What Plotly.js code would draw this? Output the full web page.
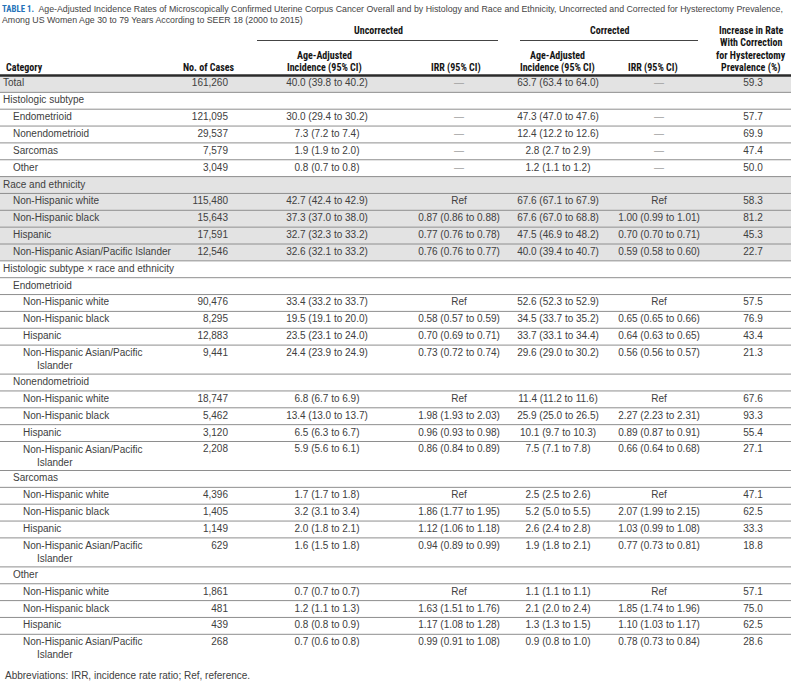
<!DOCTYPE html>
<html><head><meta charset="utf-8">
<script src="https://cdn.plot.ly/plotly-3.0.1.min.js"></script>
<style>html,body{margin:0;padding:0;background:#fff}#chart{width:791px;height:684px}</style>
</head><body><div id="chart"></div>
<script>
// ---------------- DATA ----------------
const categories = [
  "Total","Histologic subtype","Endometrioid","Nonendometrioid","Sarcomas","Other",
  "Race and ethnicity","Non-Hispanic white","Non-Hispanic black","Hispanic","Non-Hispanic Asian/Pacific Islander",
  "Histologic subtype \u00d7 race and ethnicity",
  "Endometrioid","Non-Hispanic white","Non-Hispanic black","Hispanic","Non-Hispanic Asian/Pacific Islander",
  "Nonendometrioid","Non-Hispanic white","Non-Hispanic black","Hispanic","Non-Hispanic Asian/Pacific Islander",
  "Sarcomas","Non-Hispanic white","Non-Hispanic black","Hispanic","Non-Hispanic Asian/Pacific Islander",
  "Other","Non-Hispanic white","Non-Hispanic black","Hispanic","Non-Hispanic Asian/Pacific Islander"
];
const levels = [0,0,1,1,1,1, 0,1,1,1,1, 0, 1,2,2,2,2, 1,2,2,2,2, 1,2,2,2,2, 1,2,2,2,2];
const cases = [161260,null,121095,29537,7579,3049, null,115480,15643,17591,12546, null,
  null,90476,8295,12883,9441, null,18747,5462,3120,2208, null,4396,1405,1149,629, null,1861,481,439,268];
const uncIncidence = ["40.0 (39.8 to 40.2)","","30.0 (29.4 to 30.2)","7.3 (7.2 to 7.4)","1.9 (1.9 to 2.0)","0.8 (0.7 to 0.8)",
  "","42.7 (42.4 to 42.9)","37.3 (37.0 to 38.0)","32.7 (32.3 to 33.2)","32.6 (32.1 to 33.2)","",
  "","33.4 (33.2 to 33.7)","19.5 (19.1 to 20.0)","23.5 (23.1 to 24.0)","24.4 (23.9 to 24.9)",
  "","6.8 (6.7 to 6.9)","13.4 (13.0 to 13.7)","6.5 (6.3 to 6.7)","5.9 (5.6 to 6.1)",
  "","1.7 (1.7 to 1.8)","3.2 (3.1 to 3.4)","2.0 (1.8 to 2.1)","1.6 (1.5 to 1.8)",
  "","0.7 (0.7 to 0.7)","1.2 (1.1 to 1.3)","0.8 (0.8 to 0.9)","0.7 (0.6 to 0.8)"];
const uncIRR = ["\u2014","","\u2014","\u2014","\u2014","\u2014",
  "","Ref","0.87 (0.86 to 0.88)","0.77 (0.76 to 0.78)","0.76 (0.76 to 0.77)","",
  "","Ref","0.58 (0.57 to 0.59)","0.70 (0.69 to 0.71)","0.73 (0.72 to 0.74)",
  "","Ref","1.98 (1.93 to 2.03)","0.96 (0.93 to 0.98)","0.86 (0.84 to 0.89)",
  "","Ref","1.86 (1.77 to 1.95)","1.12 (1.06 to 1.18)","0.94 (0.89 to 0.99)",
  "","Ref","1.63 (1.51 to 1.76)","1.17 (1.08 to 1.28)","0.99 (0.91 to 1.08)"];
const corIncidence = ["63.7 (63.4 to 64.0)","","47.3 (47.0 to 47.6)","12.4 (12.2 to 12.6)","2.8 (2.7 to 2.9)","1.2 (1.1 to 1.2)",
  "","67.6 (67.1 to 67.9)","67.6 (67.0 to 68.8)","47.5 (46.9 to 48.2)","40.0 (39.4 to 40.7)","",
  "","52.6 (52.3 to 52.9)","34.5 (33.7 to 35.2)","33.7 (33.1 to 34.4)","29.6 (29.0 to 30.2)",
  "","11.4 (11.2 to 11.6)","25.9 (25.0 to 26.5)","10.1 (9.7 to 10.3)","7.5 (7.1 to 7.8)",
  "","2.5 (2.5 to 2.6)","5.2 (5.0 to 5.5)","2.6 (2.4 to 2.8)","1.9 (1.8 to 2.1)",
  "","1.1 (1.1 to 1.1)","2.1 (2.0 to 2.4)","1.3 (1.3 to 1.5)","0.9 (0.8 to 1.0)"];
const corIRR = ["\u2014","","\u2014","\u2014","\u2014","\u2014",
  "","Ref","1.00 (0.99 to 1.01)","0.70 (0.70 to 0.71)","0.59 (0.58 to 0.60)","",
  "","Ref","0.65 (0.65 to 0.66)","0.64 (0.63 to 0.65)","0.56 (0.56 to 0.57)",
  "","Ref","2.27 (2.23 to 2.31)","0.89 (0.87 to 0.91)","0.66 (0.64 to 0.68)",
  "","Ref","2.07 (1.99 to 2.15)","1.03 (0.99 to 1.08)","0.77 (0.73 to 0.81)",
  "","Ref","1.85 (1.74 to 1.96)","1.10 (1.03 to 1.17)","0.78 (0.73 to 0.84)"];
const increasePct = [59.3,null,57.7,69.9,47.4,50.0, null,58.3,81.2,45.3,22.7, null,
  null,57.5,76.9,43.4,21.3, null,67.6,93.3,55.4,27.1, null,47.1,62.5,33.3,18.8, null,57.1,75.0,62.5,28.6];

const titleText = "Age-Adjusted Incidence Rates of Microscopically Confirmed Uterine Corpus Cancer Overall and by Histology and Race and Ethnicity, Uncorrected and Corrected for Hysterectomy Prevalence,<br>Among US Women Age 30 to 79 Years According to SEER 18 (2000 to 2015)";
const tableLabel = "TABLE 1.";
const groupHeaders = ["Uncorrected","Corrected"];
const colHeaders = ["Category","No. of Cases","Age-Adjusted|Incidence (95% CI)","IRR (95% CI)","Age-Adjusted|Incidence (95% CI)","IRR (95% CI)","Increase in Rate|With Correction|for Hysterectomy|Prevalence (%)"];
const footnote = "Abbreviations: IRR, incidence rate ratio; Ref, reference.";

// ---------------- LAYOUT HELPERS ----------------
const W = 791, Hgt = 684;
const BODY = "Liberation Sans, Arial, sans-serif";
const HEAD = "Roboto Condensed, DejaVu Sans Condensed, Liberation Sans Narrow, Arial Narrow, Liberation Sans, sans-serif";
const TXT = "#404040";
const TOP = 75.5, H1 = 16.85, H2 = 29;

const catText = categories.map((c, i) => {
  if (levels[i] >= 2 && c.length > 30) {
    const k = c.lastIndexOf(" ");
    return c.slice(0, k) + "<br>\u00a0\u00a0\u00a0\u00a0\u00a0" + c.slice(k + 1);
  }
  return c;
});
const wrapped = catText.map(t => t.indexOf("<br>") >= 0);
const tops = [], bottoms = [];
let yy = TOP;
categories.forEach((c, i) => { tops.push(yy); yy += wrapped[i] ? H2 : H1; bottoms.push(yy); });

// shading: Total row and the "Race and ethnicity" block
const shaded = [];
let inRace = false;
categories.forEach((c, i) => {
  if (levels[i] === 0) inRace = (c === "Race and ethnicity");
  shaded.push(c === "Total" || inRace);
});

const shapes = [];
categories.forEach((c, i) => {
  if (shaded[i]) shapes.push({type:"rect", xref:"paper", yref:"y", x0:0, x1:1, y0:tops[i], y1:bottoms[i],
    fillcolor:"#e3e3e3", line:{width:0}, layer:"below"});
});
categories.forEach((c, i) => {
  if (i < categories.length - 1) shapes.push({type:"line", xref:"paper", yref:"y", x0:0, x1:1, y0:bottoms[i], y1:bottoms[i],
    line:{color:"#8e8e8e", width:1}});
});
shapes.push({type:"line", xref:"paper", yref:"y", x0:0, x1:1, y0:TOP, y1:TOP, line:{color:"#2b2b2b", width:2.5}});
shapes.push({type:"line", xref:"x", yref:"y", x0:257, x1:498, y0:40.5, y1:40.5, line:{color:"#444", width:1}});
shapes.push({type:"line", xref:"x", yref:"y", x0:520, x1:698, y0:40.5, y1:40.5, line:{color:"#444", width:1}});

const traces = [];
traces.push({type:"scatter", mode:"text", x:levels.map(l => 3 + l * 10), y:categories.map((c, i) => wrapped[i] ? tops[i] + 15 : tops[i] + H1 / 2),
  text:catText, textposition:"middle right", textfont:{family:BODY, size:10, color:TXT}, hoverinfo:"skip", cliponaxis:false});
const valY = tops.map(t => t + H1 / 2);
const colDefs = [
  {vals: cases.map(v => v == null ? "" : v.toLocaleString("en-US")), x: 228, pos: "middle left"},
  {vals: uncIncidence, x: 327, pos: "middle center"},
  {vals: uncIRR, x: 459, pos: "middle center"},
  {vals: corIncidence, x: 558, pos: "middle center"},
  {vals: corIRR, x: 659, pos: "middle center"},
  {vals: increasePct.map(v => v == null ? "" : v.toFixed(1)), x: 753, pos: "middle center"}
];
colDefs.forEach(cd => traces.push({type:"scatter", mode:"text", x:cd.vals.map(() => cd.x), y:valY, text:cd.vals,
  textposition:cd.pos, textfont:{family:BODY, size:10, color:cd.vals.map(v => v === "\u2014" ? "#a0a0a0" : TXT)},
  hoverinfo:"skip", cliponaxis:false}));

const annotations = [];
const hdrX = [4, 209, 324, 456, 557, 653, 751];
colHeaders.forEach((h, j) => {
  const lines = h.split("|");
  lines.forEach((ln, k) => {
    annotations.push({xref:"x", yref:"y", x:hdrX[j], y:67.5 - (lines.length - 1 - k) * 12.3, text:"<b>" + ln + "</b>",
      showarrow:false, xanchor: j === 0 ? "left" : "center", yanchor:"middle",
      font:{family:HEAD, size:10, color:"#151515"}});
  });
});
[378, 609].forEach((x, j) => annotations.push({xref:"x", yref:"y", x:x, y:30.5, text:"<b>" + groupHeaders[j] + "</b>",
  showarrow:false, xanchor:"center", yanchor:"middle", font:{family:HEAD, size:10, color:"#151515"}}));
annotations.push({xref:"x", yref:"y", x:3, y:675, text:footnote, showarrow:false, xanchor:"left", yanchor:"middle",
  font:{family:BODY, size:10, color:TXT}});
annotations.push({xref:"x", yref:"y", x:0, y:1.5, align:"left",
  text:"<b><span style='color:#2472b8;font-family:Roboto Condensed'>" + tableLabel + "</span></b>\u00a0 " + titleText,
  showarrow:false, xanchor:"left", yanchor:"top", font:{family:BODY, size:8.8, color:"#444"}});

const layout = {
  width:W, height:Hgt, margin:{l:0, r:0, t:0, b:0}, paper_bgcolor:"#fff", plot_bgcolor:"#fff",
  showlegend:false,
  xaxis:{range:[0, W], visible:false, fixedrange:true},
  yaxis:{range:[Hgt, 0], visible:false, fixedrange:true},
  shapes:shapes, annotations:annotations
};
Plotly.newPlot("chart", traces, layout, {staticPlot:true});
</script></body></html>
